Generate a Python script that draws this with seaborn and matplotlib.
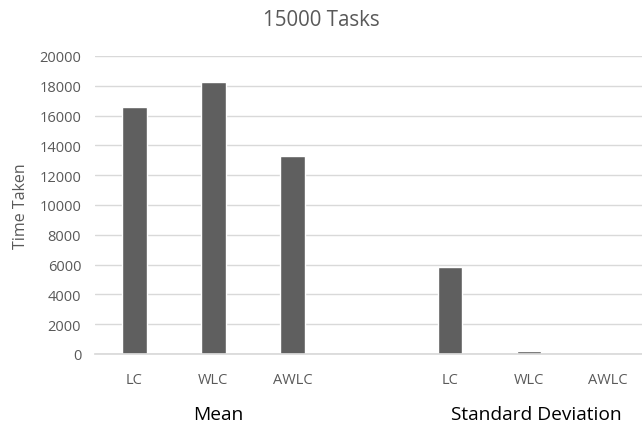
import pandas as pd
import seaborn as sns
import matplotlib.pyplot as plt
from matplotlib import transforms

methods = ["LC", "WLC", "AWLC"]
groups = ["Mean", "Standard Deviation"]
mean_vals = [16600, 18250, 13300]
sd_vals = [5830, 180, 20]

rows = []
for m, v in zip(methods, mean_vals):
    rows.append({"slot": "Mean " + m, "value": v})
for m, v in zip(methods, sd_vals):
    rows.append({"slot": "SD " + m, "value": v})
df = pd.DataFrame(rows)
order = ["Mean " + m for m in methods] + ["gap"] + ["SD " + m for m in methods]

sns.set_theme(style="white")
plt.rcParams['font.family'] = ['Open Sans', 'DejaVu Sans']
txt = "#595959"

fig = plt.figure(figsize=(6.42, 4.35), dpi=100)
ax = fig.add_axes([0.148, 0.184, 0.852, 0.685])
sns.barplot(data=df, x="slot", y="value", order=order, color="#5f5f5f",
            width=0.31, saturation=1, ax=ax)

ax.set_ylim(0, 20000)
ax.set_xlim(-0.5, 6.43)
ax.set_yticks(range(0, 20001, 2000))
ax.yaxis.grid(True, color="#d9d9d9", linewidth=1)
ax.set_axisbelow(True)
for s in ["top", "right", "left"]:
    ax.spines[s].set_visible(False)
ax.spines["bottom"].set_color("#d9d9d9")
ax.tick_params(axis="both", length=0, colors=txt, labelsize=10.5)
ax.tick_params(axis="x", pad=13)
ax.tick_params(axis="y", pad=10)
ax.set_xticks(range(len(order)))
ax.set_xticklabels(methods + [""] + methods)
ax.set_xlabel("")
ax.set_ylabel("Time Taken", color=txt, fontsize=11.5)
ax.yaxis.set_label_coords(-0.12, 0.5)

trans = transforms.blended_transform_factory(ax.transData, ax.transAxes)
ax.text(1.06, -0.2, groups[0], transform=trans, ha="center", va="center",
        fontsize=13.8, color="black")
ax.text(5.09, -0.2, groups[1], transform=trans, ha="center", va="center",
        fontsize=13.8, color="black")

fig.text(0.5, 0.953, "15000 Tasks", ha="center", va="center", fontsize=14.8, color=txt)

plt.savefig("out.png", dpi=100)
